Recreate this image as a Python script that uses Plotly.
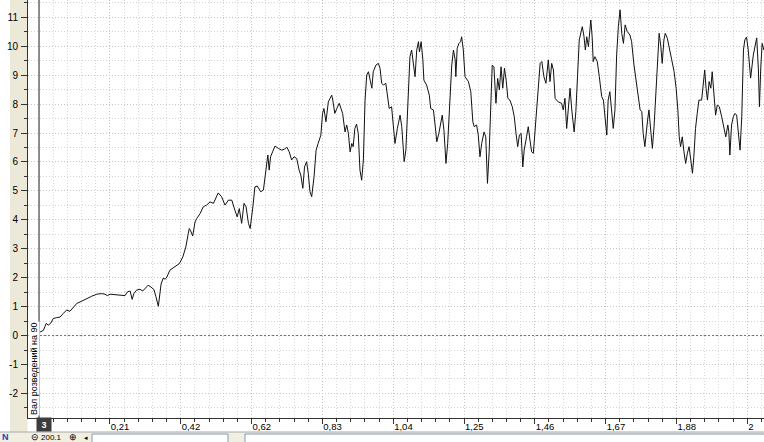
import plotly.graph_objects as go

# ---------------- data (time in s, signal value) ----------------
time_s = [0.003, 0.013, 0.021, 0.027, 0.034, 0.042, 0.052, 0.062, 0.071, 0.081, 0.091, 0.101, 0.111, 0.126, 0.140, 0.155, 0.170, 0.184, 0.194, 0.201,
          0.209, 0.224, 0.238, 0.253, 0.260, 0.268, 0.274, 0.279, 0.287, 0.297, 0.305, 0.312, 0.321, 0.329, 0.338, 0.344, 0.351, 0.359, 0.365, 0.371,
          0.376, 0.385, 0.400, 0.413, 0.423, 0.432, 0.439, 0.442, 0.446, 0.452, 0.459, 0.464, 0.474, 0.483, 0.493, 0.503, 0.513, 0.527, 0.537, 0.547,
          0.557, 0.567, 0.576, 0.583, 0.589, 0.596, 0.603, 0.609, 0.616, 0.621, 0.629, 0.635, 0.642, 0.652, 0.660, 0.667, 0.673, 0.677, 0.681, 0.687,
          0.694, 0.704, 0.714, 0.721, 0.729, 0.736, 0.743, 0.750, 0.758, 0.765, 0.770, 0.776, 0.781, 0.787, 0.792, 0.797, 0.802, 0.809, 0.815, 0.821,
          0.829, 0.834, 0.838, 0.844, 0.851, 0.856, 0.861, 0.864, 0.870, 0.876, 0.883, 0.893, 0.900, 0.905, 0.910, 0.915, 0.920, 0.924, 0.929, 0.934,
          0.939, 0.944, 0.949, 0.954, 0.959, 0.964, 0.969, 0.974, 0.979, 0.983, 0.991, 0.998, 1.003, 1.008, 1.013, 1.020, 1.024, 1.030, 1.037, 1.042,
          1.047, 1.054, 1.062, 1.067, 1.074, 1.079, 1.084, 1.091, 1.096, 1.101, 1.106, 1.111, 1.116, 1.119, 1.124, 1.129, 1.132, 1.140, 1.148, 1.152,
          1.160, 1.165, 1.170, 1.176, 1.182, 1.186, 1.191, 1.197, 1.202, 1.209, 1.214, 1.219, 1.224, 1.226, 1.230, 1.235, 1.240, 1.243, 1.248, 1.253,
          1.263, 1.270, 1.276, 1.280, 1.287, 1.292, 1.297, 1.302, 1.309, 1.314, 1.319, 1.324, 1.329, 1.333, 1.338, 1.344, 1.349, 1.354, 1.359, 1.364,
          1.369, 1.374, 1.379, 1.385, 1.392, 1.398, 1.403, 1.408, 1.413, 1.418, 1.423, 1.427, 1.434, 1.439, 1.444, 1.449, 1.454, 1.460, 1.466, 1.474,
          1.479, 1.485, 1.491, 1.498, 1.503, 1.508, 1.513, 1.518, 1.527, 1.537, 1.542, 1.547, 1.552, 1.557, 1.562, 1.567, 1.574, 1.579, 1.584, 1.589,
          1.598, 1.603, 1.607, 1.611, 1.616, 1.623, 1.627, 1.630, 1.635, 1.642, 1.648, 1.655, 1.660, 1.665, 1.670, 1.674, 1.679, 1.684, 1.689, 1.694,
          1.699, 1.704, 1.709, 1.714, 1.719, 1.724, 1.730, 1.738, 1.743, 1.750, 1.756, 1.763, 1.768, 1.773, 1.777, 1.782, 1.785, 1.790, 1.794, 1.799,
          1.804, 1.809, 1.815, 1.820, 1.824, 1.829, 1.833, 1.838, 1.842, 1.848, 1.854, 1.861, 1.868, 1.874, 1.879, 1.883, 1.887, 1.892, 1.897, 1.902,
          1.907, 1.912, 1.917, 1.922, 1.926, 1.931, 1.936, 1.941, 1.949, 1.954, 1.958, 1.962, 1.966, 1.971, 1.976, 1.980, 1.985, 1.990, 1.995, 2.001,
          2.008, 2.013, 2.020, 2.026, 2.029, 2.032, 2.037, 2.042, 2.047, 2.052, 2.057, 2.062, 2.067, 2.072, 2.076, 2.081, 2.086, 2.093, 2.101, 2.106,
          2.111, 2.116, 2.119, 2.123, 2.127, 2.132]

signal = [0.12, 0.18, 0.42, 0.36, 0.42, 0.59, 0.62, 0.64, 0.76, 0.88, 0.84, 0.99, 1.11, 1.19, 1.28, 1.36, 1.43, 1.45, 1.43, 1.38,
          1.43, 1.42, 1.39, 1.38, 1.51, 1.54, 1.25, 1.45, 1.57, 1.60, 1.54, 1.63, 1.74, 1.68, 1.59, 1.34, 1.01, 1.78, 1.98, 1.95,
          2.02, 2.26, 2.37, 2.49, 2.72, 3.07, 3.53, 3.70, 3.62, 3.44, 3.93, 4.05, 4.22, 4.45, 4.51, 4.62, 4.57, 4.93, 4.80, 4.51,
          4.68, 4.68, 4.34, 4.10, 4.39, 3.88, 4.57, 4.45, 3.88, 3.70, 4.45, 5.14, 5.17, 4.97, 5.03, 5.61, 6.24, 5.72, 6.18, 6.35,
          6.55, 6.47, 6.41, 6.44, 6.51, 6.35, 6.07, 6.18, 6.12, 5.72, 5.55, 5.09, 5.83, 6.01, 5.61, 4.97, 4.80, 5.49, 6.41, 6.64,
          6.93, 7.68, 7.85, 7.39, 8.08, 8.20, 8.31, 8.14, 7.68, 7.85, 8.03, 7.68, 7.04, 7.28, 6.99, 6.35, 6.64, 6.53, 7.16, 7.31,
          6.99, 5.72, 5.37, 6.07, 8.14, 9.01, 9.12, 8.83, 8.55, 9.12, 9.35, 9.41, 9.24, 8.72, 8.66, 8.72, 8.43, 7.85, 7.91, 7.22,
          6.64, 7.16, 7.62, 7.22, 6.01, 6.41, 7.80, 9.64, 9.87, 9.41, 8.95, 9.87, 10.16, 9.81, 10.16, 9.53, 8.83, 8.66, 8.31, 7.85,
          7.80, 7.28, 6.70, 6.99, 7.45, 7.62, 7.10, 5.95, 6.64, 8.14, 9.35, 9.87, 9.53, 8.95, 9.93, 10.10, 10.16, 10.33, 9.87, 8.95,
          8.78, 8.43, 7.39, 7.22, 7.28, 6.93, 6.18, 6.64, 7.04, 6.87, 5.26, 6.35, 8.20, 9.35, 9.29, 8.03, 8.89, 8.49, 9.29, 8.55,
          9.24, 8.83, 8.20, 8.14, 7.91, 7.56, 6.99, 6.53, 6.93, 6.99, 5.83, 6.41, 6.87, 7.22, 6.76, 6.35, 6.30, 7.34, 8.14, 9.41,
          9.47, 8.95, 8.72, 9.53, 8.78, 9.41, 9.18, 8.20, 8.08, 8.03, 7.80, 8.20, 7.16, 7.74, 8.55, 7.80, 7.04, 7.74, 8.95, 10.22,
          10.68, 10.33, 9.87, 10.33, 9.99, 10.91, 10.33, 9.47, 9.64, 9.47, 8.95, 8.26, 8.14, 7.56, 6.93, 8.14, 8.43, 7.80, 7.16, 7.80,
          9.70, 10.68, 11.26, 10.45, 10.10, 10.74, 10.51, 10.39, 10.16, 9.35, 8.83, 8.37, 7.80, 7.74, 6.99, 6.53, 6.99, 7.45, 7.80, 7.16,
          6.47, 7.22, 8.37, 9.58, 10.45, 9.99, 9.41, 10.22, 10.45, 10.28, 9.87, 9.53, 9.12, 8.55, 7.80, 6.87, 6.53, 6.87, 6.35, 5.95,
          6.30, 6.53, 6.07, 5.61, 6.18, 7.16, 7.68, 8.14, 8.14, 8.83, 9.18, 8.55, 8.14, 8.78, 8.55, 9.12, 8.49, 7.62, 7.97, 7.91,
          7.56, 7.22, 6.87, 7.28, 7.04, 6.24, 7.28, 7.56, 7.68, 7.62, 7.10, 6.41, 7.56, 9.87, 10.22, 10.32, 9.87, 8.90, 9.70, 10.04,
          10.29, 9.18, 7.91, 9.29, 10.10, 9.87]

x_tick_vals = [0.2083, 0.4167, 0.625, 0.8333, 1.0417, 1.25, 1.4583, 1.6667, 1.875, 2.0833]
x_tick_text = ["0,21", "0,42", "0,62", "0,83", "1,04", "1,25", "1,46", "1,67", "1,88", "2"]
y_tick_vals = [-2, -1, 0, 1, 2, 3, 4, 5, 6, 7, 8, 9, 10, 11]
y_tick_text = ["-2", "-1", "0", "1", "2", "3", "4", "5", "6", "7", "8", "9", "10", "11"]
channel_label = "Вал розведений на 90"
cursor_label = "3"
zoom_value = "200.1"

# ---------------- layout helpers (pixel -> paper) ----------------
W, H = 764, 442
ML, MB = 28, 24
PW, PH = W - ML, H - MB


def px(xp):
    return (xp - ML) / PW


def py(yp):
    return (PH - yp) / PH


FONT = "Liberation Sans, Arial, sans-serif"
BEIGE = "#ECE9D8"

fig = go.Figure()
fig.add_trace(go.Scatter(x=time_s, y=signal, mode="lines",
                         line=dict(color="#111111", width=1), hoverinfo="skip",
                         showlegend=False))

shapes = [
    # left axis column
    dict(type="rect", xref="paper", yref="paper", x0=px(10), x1=px(27.5), y0=py(432), y1=py(0),
         fillcolor=BEIGE, line=dict(width=0), layer="below"),
    # bottom tool strip
    dict(type="rect", xref="paper", yref="paper", x0=px(0), x1=px(764), y0=py(442), y1=py(432),
         fillcolor="#F1EFE2", line=dict(width=0), layer="below"),
    dict(type="line", xref="paper", yref="paper", x0=px(0), x1=px(764), y0=py(432), y1=py(432),
         line=dict(color="#A8A8A8", width=1)),
    dict(type="rect", xref="paper", yref="paper", x0=px(92), x1=px(228), y0=py(443), y1=py(434),
         fillcolor="white", line=dict(color="#7F9DB9", width=1)),
    dict(type="rect", xref="paper", yref="paper", x0=px(245), x1=px(765), y0=py(443), y1=py(434),
         fillcolor="white", line=dict(color="#7F9DB9", width=1)),
    # zero line
    dict(type="line", xref="paper", yref="y", x0=0, x1=1, y0=0, y1=0,
         line=dict(color="#707070", width=1, dash="2px,2px")),
    # cursor line at t = 0
    dict(type="line", xref="x", yref="paper", x0=0, x1=0, y0=0, y1=1,
         line=dict(color="#6A6A6A", width=1.5)),
]

annotations = [
    dict(text=channel_label, textangle=-90, xref="paper", yref="paper",
         x=px(34), y=py(416.5), xanchor="center", yanchor="bottom", showarrow=False,
         font=dict(family=FONT, size=9, color="#000000"), bgcolor="white", borderpad=0),
    dict(text="<b>" + cursor_label + "</b>", xref="paper", yref="paper", x=px(44), y=py(424.5),
         xanchor="center", yanchor="middle", showarrow=False, width=12, height=11,
         bgcolor="#3C3C3C", font=dict(family=FONT, size=9, color="white")),
    dict(text="<b>N</b>", xref="paper", yref="paper", x=px(5), y=py(437), xanchor="center",
         yanchor="middle", showarrow=False, font=dict(family=FONT, size=9, color="#2040C0")),
    dict(text="⊝", xref="paper", yref="paper", x=px(35), y=py(437), xanchor="center",
         yanchor="middle", showarrow=False, font=dict(family=FONT, size=9, color="#000")),
    dict(text=zoom_value, xref="paper", yref="paper", x=px(51), y=py(437), xanchor="center",
         yanchor="middle", showarrow=False, font=dict(family=FONT, size=8, color="#000")),
    dict(text="⊕", xref="paper", yref="paper", x=px(73), y=py(437), xanchor="center",
         yanchor="middle", showarrow=False, font=dict(family=FONT, size=9, color="#000")),
    dict(text="◂", xref="paper", yref="paper", x=px(86), y=py(437), xanchor="center",
         yanchor="middle", showarrow=False, font=dict(family=FONT, size=7, color="#000")),
]

fig.update_layout(
    width=W, height=H,
    margin=dict(l=ML, r=0, t=0, b=MB, pad=0),
    paper_bgcolor="white", plot_bgcolor="white",
    font=dict(family=FONT, size=10, color="#000"),
    shapes=shapes, annotations=annotations,
    showlegend=False,
)

fig.update_xaxes(
    range=[-0.0324, 2.1324], fixedrange=True,
    tickmode="array", tickvals=x_tick_vals, ticktext=x_tick_text,
    ticks="outside", ticklen=5, tickwidth=1, tickcolor="#333333",
    ticklabelposition="outside right",
    tickfont=dict(family=FONT, size=9.5, color="#000"),
    showline=True, linecolor="#333333", linewidth=1,
    showgrid=True, gridcolor="#C4C4C4", gridwidth=1, griddash="1px,2px",
    zeroline=False,
    minor=dict(tickmode="linear", tick0=0, dtick=1 / 24, ticks="outside", ticklen=3,
               tickcolor="#333333", showgrid=True, gridcolor="#D8D8D8", griddash="1px,2px"),
)

fig.update_yaxes(
    range=[-2.85, 11.6], fixedrange=True,
    tickmode="array", tickvals=y_tick_vals, ticktext=y_tick_text,
    ticks="outside", ticklen=6, tickwidth=1, tickcolor="#333333",
    ticklabelstandoff=1,
    tickfont=dict(family=FONT, size=10, color="#000"),
    showline=True, linecolor="#333333", linewidth=1,
    showgrid=True, gridcolor="#C8C8C8", gridwidth=1, griddash="1px,2px",
    zeroline=False,
    minor=dict(tickmode="linear", tick0=0, dtick=0.5, ticks="outside", ticklen=3,
               tickcolor="#333333", showgrid=True, gridcolor="#D4D4D4", griddash="1px,2px"),
)

fig.write_html("out.html",
               config={"displayModeBar": False, "staticPlot": True},
               post_script="document.body.style.margin='0';document.body.style.overflow='hidden';")
